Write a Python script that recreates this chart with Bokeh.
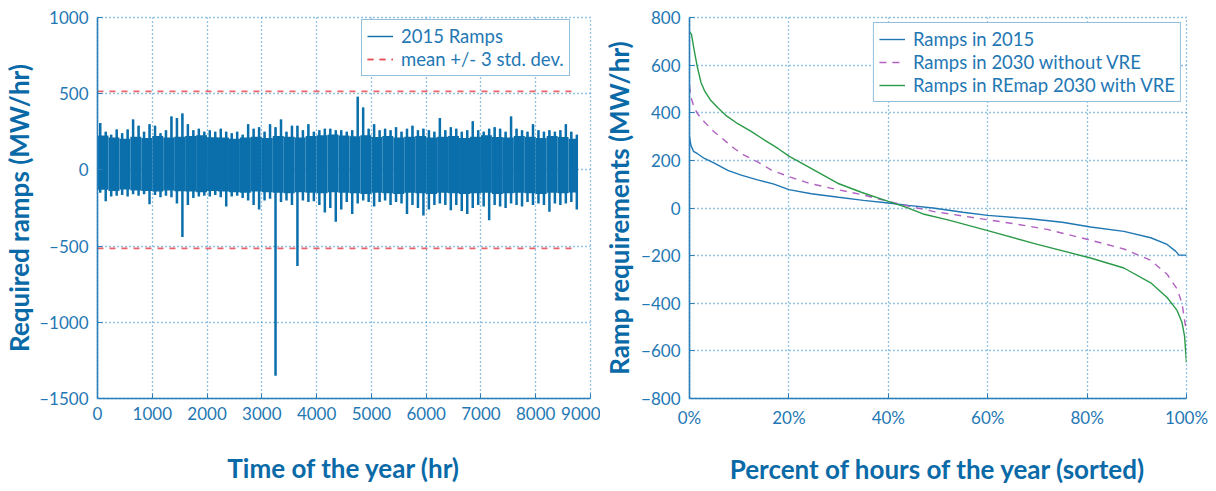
from bokeh.plotting import figure
from bokeh.layouts import row
from bokeh.models import FixedTicker, Range1d
from bokeh.embed import file_html
from bokeh.resources import INLINE

# ---------------- data: left panel (2015 hourly ramps, read per 100-hr bin) ----------------
bin_hours = 100
n_hours = 8760
ramp_max = [
    307, 250, 230, 265, 240, 265, 330, 290, 250, 300,
    290, 240, 260, 350, 340, 370, 300, 260, 270, 250,
    260, 250, 270, 250, 240, 250, 230, 300, 270, 280,
    250, 300, 280, 330, 250, 290, 290, 260, 300, 250,
    260, 270, 270, 260, 260, 250, 260, 480, 410, 270,
    300, 260, 270, 260, 280, 250, 270, 290, 260, 270,
    260, 250, 340, 260, 280, 270, 250, 260, 320, 260,
    250, 270, 280, 270, 250, 350, 270, 260, 250, 300,
    260, 250, 260, 250, 260, 300, 250, 230]
ramp_min = [
    -150, -205, -175, -170, -165, -175, -160, -170, -160, -225,
    -165, -180, -170, -180, -220, -440, -230, -185, -175, -170,
    -175, -165, -180, -240, -175, -170, -185, -200, -230, -260,
    -200, -190, -1350, -210, -200, -230, -630, -200, -210, -205,
    -230, -280, -250, -340, -260, -210, -290, -220, -200, -210,
    -240, -210, -200, -230, -210, -220, -290, -230, -250, -300,
    -260, -230, -220, -230, -265, -230, -270, -290, -250, -230,
    -240, -330, -230, -240, -250, -220, -230, -240, -210, -230,
    -220, -230, -275, -220, -230, -220, -210, -260]
# dense core of the band, per 200-hr bin
core_hours = 200
core_top = [225, 212, 205, 218, 210, 222, 212, 218, 222, 228, 215, 212, 205, 212, 218,
            210, 222, 218, 212, 222, 228, 232, 226, 220, 228, 216, 222, 212, 218, 222,
            212, 218, 222, 210, 218, 228, 216, 212, 222, 218, 210, 222, 216, 205]
core_bot = [-130, -138, -128, -135, -138, -142, -135, -140, -142, -146, -138, -142, -146, -150, -142,
            -146, -150, -154, -146, -150, -154, -146, -150, -154, -158, -150, -154, -158, -150, -154,
            -158, -150, -154, -158, -154, -150, -158, -154, -150, -154, -158, -150, -154, -148]
sd_band = [515, -515]

# ---------------- data: right panel (sorted ramp duration curves) ----------------
pct_2015 = [0, 0.3, 0.8, 1.6, 3, 5, 7.7, 10.4, 13.7, 17, 20, 24.5, 30, 35, 40, 44, 49, 55, 60,
            68.5, 75, 80.7, 87.4, 92.8, 96.1, 97.8, 98.5, 100]
val_2015 = [300, 262, 238, 228, 208, 188, 158, 138, 118, 100, 77, 60, 45, 32, 21, 11, 0, -18, -31,
            -45, -60, -80, -98, -125, -153, -181, -198, -198]
pct_2030 = [0, 0.3, 0.9, 1.6, 3, 5, 7, 9, 11, 13.7, 16.4, 20, 24, 29.8, 34.7, 40, 44, 49, 57, 65,
            72, 80.7, 87.4, 92.8, 96.1, 98.1, 99.1, 99.6, 100]
val_2030 = [515, 465, 424, 396, 361, 319, 285, 250, 222, 194, 160, 132, 104, 77, 56, 28, 8, -14, -40,
            -65, -90, -135, -172, -220, -278, -340, -400, -470, -520]
pct_vre = [0, 0.4, 0.9, 1.6, 2.3, 3, 4.3, 5.7, 7.3, 9.7, 12.4, 15.1, 17.8, 20, 25, 29.8, 34.7, 40,
           43.5, 47, 52, 60, 70, 80.7, 87.4, 92.8, 96.1, 98.1, 99.1, 99.6, 100]
val_vre = [740, 729, 667, 590, 528, 493, 451, 421, 389, 354, 322, 285, 250, 218, 160, 104, 65, 28,
           4, -25, -50, -95, -153, -210, -252, -314, -376, -430, -481, -537, -650]

left_xticks = [0, 1000, 2000, 3000, 4000, 5000, 6000, 7000, 8000, 9000]
left_yticks = [-1500, -1000, -500, 0, 500, 1000]
right_xticks = [0, 20, 40, 60, 80, 100]
right_yticks = [-800, -600, -400, -200, 0, 200, 400, 600, 800]

# ---------------- styling ----------------
FONT = "Lato"
TICK_COL = "#1f78b4"
TITLE_COL = "#0a6aa7"
GRID_COL = "#2b86c5"
AXIS_COL = "#2a7fba"
RAMP_BLUE = "#0a6fab"


def style(p, xlabel, ylabel, xlab_standoff, ylab_standoff):
    p.xgrid.grid_line_color = GRID_COL
    p.ygrid.grid_line_color = GRID_COL
    p.xgrid.grid_line_dash = "1 3"
    p.ygrid.grid_line_dash = "1 3"
    p.xgrid.grid_line_width = 1.3
    p.ygrid.grid_line_width = 1.3
    p.outline_line_color = GRID_COL
    p.outline_line_dash = "1 3"
    p.outline_line_width = 1.3
    p.background_fill_color = "white"
    p.border_fill_color = "white"
    for ax in (p.xaxis[0], p.yaxis[0]):
        ax.axis_line_color = AXIS_COL
        ax.axis_line_width = 1.6
        ax.major_tick_in = 5
        ax.major_tick_out = 0
        ax.major_tick_line_color = AXIS_COL
        ax.minor_tick_line_color = None
        ax.major_label_text_font = FONT
        ax.major_label_text_font_size = "17px"
        ax.major_label_text_color = TICK_COL
        ax.axis_label_text_font = FONT
        ax.axis_label_text_font_style = "bold"
        ax.axis_label_text_font_size = "26px"
        ax.axis_label_text_color = TITLE_COL
    p.xaxis[0].axis_label = xlabel
    p.yaxis[0].axis_label = ylabel
    p.xaxis[0].major_label_standoff = 8
    p.yaxis[0].major_label_standoff = 9
    p.xaxis[0].axis_label_standoff = xlab_standoff
    p.yaxis[0].axis_label_standoff = ylab_standoff


def style_legend(p, size):
    lg = p.legend[0]
    lg.label_text_font = FONT
    lg.label_text_font_size = size
    lg.label_text_color = TICK_COL
    lg.border_line_color = AXIS_COL
    lg.border_line_width = 1.3
    lg.background_fill_color = "white"
    lg.background_fill_alpha = 1.0
    lg.glyph_width = 26
    lg.glyph_height = 18
    lg.label_height = 18
    lg.spacing = 1
    lg.padding = 5
    lg.label_standoff = 8


# ---------------- left figure ----------------
left = figure(width=600, height=488, output_backend="svg", toolbar_location=None,
              x_range=Range1d(0, 9000), y_range=Range1d(-1500, 1000),
              min_border_left=96, min_border_right=10, min_border_top=17, min_border_bottom=89)
style(left, "Time of the year (hr)", "Required ramps (MW/hr)", 29, 1)
left.xaxis[0].ticker = FixedTicker(ticks=left_xticks)
left.yaxis[0].ticker = FixedTicker(ticks=left_yticks)
left.yaxis[0].major_label_overrides = {t: ("\u2013" + str(-t) if t < 0 else str(t)) for t in left_yticks}

core_left = [i * core_hours for i in range(len(core_top))]
core_right = [min(x + core_hours, n_hours) for x in core_left]
left.quad(left=core_left, right=core_right, top=core_top, bottom=core_bot,
          fill_color=RAMP_BLUE, line_color=None)
bin_center = [i * bin_hours + bin_hours / 2 for i in range(len(ramp_max))]
zeros = [0] * len(ramp_max)
# thin copy carries the legend swatch; thicker copies give the spiky band
left.segment(x0=bin_center, y0=zeros, x1=bin_center, y1=ramp_max,
             line_color=RAMP_BLUE, line_width=1.4, legend_label="2015 Ramps")
left.segment(x0=bin_center, y0=zeros, x1=bin_center, y1=ramp_max,
             line_color=RAMP_BLUE, line_width=2.5)
left.segment(x0=bin_center, y0=zeros, x1=bin_center, y1=ramp_min,
             line_color=RAMP_BLUE, line_width=2.5)
for lvl in sd_band:
    left.line(x=[0, n_hours], y=[lvl, lvl], line_color="#e8474f", line_width=1.6,
              line_dash="6 6", line_alpha=0.85, legend_label="mean +/- 3 std. dev.")
style_legend(left, "18.5px")
left.legend[0].location = (264, 322)

# ---------------- right figure ----------------
right = figure(width=608, height=488, output_backend="svg", toolbar_location=None,
               x_range=Range1d(0, 100), y_range=Range1d(-800, 800),
               min_border_left=88, min_border_right=22, min_border_top=16, min_border_bottom=90)
style(right, "Percent of hours of the year (sorted)", "Ramp requirements (MW/hr)", 22, 3)
right.xaxis[0].ticker = FixedTicker(ticks=right_xticks)
right.yaxis[0].ticker = FixedTicker(ticks=right_yticks)
right.xaxis[0].major_label_overrides = {t: f"{t}%" for t in right_xticks}

right.line(pct_2015, val_2015, line_color="#1f77b4", line_width=1.4, legend_label="Ramps in 2015")
right.line(pct_2030, val_2030, line_color="#b061c0", line_width=1.4, line_dash="7 6",
           legend_label="Ramps in 2030 without VRE")
right.line(pct_vre, val_vre, line_color="#2b9a48", line_width=1.4,
           legend_label="Ramps in REmap 2030 with VRE")
style_legend(right, "18.5px")
right.legend[0].location = "top_right"
right.legend[0].margin = 5

layout = row(left, right)
open("out.html", "w").write(file_html(layout, INLINE))
